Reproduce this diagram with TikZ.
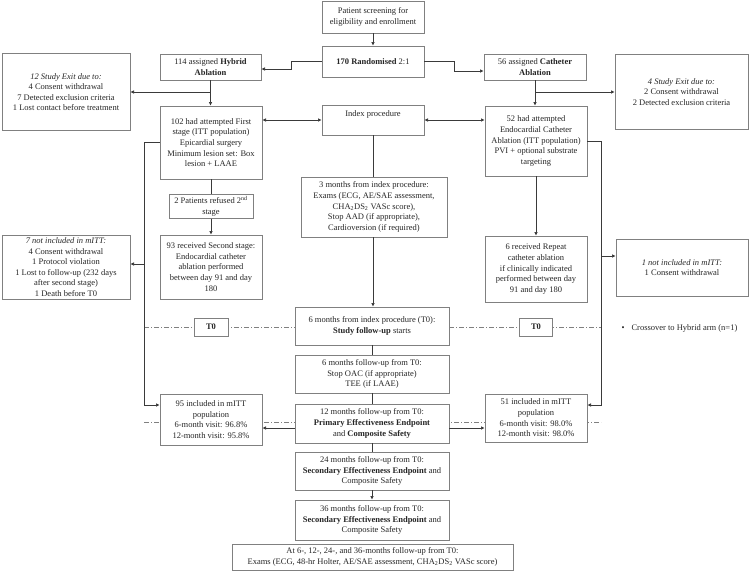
\documentclass[tikz,border=0pt]{standalone}
\usepackage{fontspec}
\setmainfont{Liberation Serif}
\usetikzlibrary{arrows.meta,positioning,calc,backgrounds}
\definecolor{frame}{HTML}{808080}
\definecolor{edge}{HTML}{3A3A3A}
\definecolor{ink}{HTML}{262626}

\begin{document}
\begin{tikzpicture}[x=1pt, y=-1pt,
  box/.style={rectangle, draw=frame, line width=0.8pt, fill=white, align=center, inner sep=2pt,
    font=\fontsize{8.5}{10.6}\selectfont, text=ink},
  arr/.style={-{Latex[length=3.6pt,width=3.6pt]}, line width=0.75pt, edge},
  darr/.style={{Latex[length=3.6pt,width=3.6pt]}-{Latex[length=3.6pt,width=3.6pt]}, line width=0.75pt, edge},
  line/.style={line width=0.75pt, edge},
  tline/.style={line width=0.6pt, frame, dash pattern=on 5pt off 2pt on 1pt off 2pt}
]
  \useasboundingbox (0,0) rectangle (750,571);

  % centre column
  \node[box, minimum width=102pt, minimum height=32pt] (screen) at (373,17) {Patient screening for\\eligibility and enrollment};
  \node[box, minimum width=102pt, minimum height=31pt] (rand) at (373,61.5) {\textbf{170 Randomised} 2:1};
  \node[box, minimum width=102pt, minimum height=30pt, text height=7pt, text depth=15pt] (index) at (373,120) {Index procedure};
  \node[box, minimum width=146pt, minimum height=60pt] (three) at (374,207) {3 months from index procedure:\\Exams (ECG, AE/SAE assessment,\\CHA\textsubscript{2}DS\textsubscript{2} VASc score),\\Stop AAD (if appropriate),\\Cardioversion (if required)};
  \node[box, minimum width=154pt, minimum height=38pt] (fu0) at (372,326) {6 months from index procedure (T0):\\\textbf{Study follow-up} starts};
  \node[box, minimum width=154pt, minimum height=38pt] (fu6) at (372,374) {6 months follow-up from T0:\\Stop OAC (if appropriate)\\TEE (if LAAE)};
  \node[box, minimum width=154pt, minimum height=39pt] (fu12) at (372,423.5) {12 months follow-up from T0:\\\textbf{Primary Effectiveness Endpoint}\\and \textbf{Composite Safety}};
  \node[box, minimum width=154pt, minimum height=38pt] (fu24) at (372,471) {24 months follow-up from T0:\\\textbf{Secondary Effectiveness Endpoint} and\\Composite Safety};
  \node[box, minimum width=154pt, minimum height=40pt] (fu36) at (372,520) {36 months follow-up from T0:\\\textbf{Secondary Effectiveness Endpoint} and\\Composite Safety};
  \node[box, minimum width=281pt, minimum height=26pt] (fin) at (372.5,557) {At 6-, 12-, 24-, and 36-months follow-up from T0:\\Exams (ECG, 48-hr Holter, AE/SAE assessment, CHA\textsubscript{2}DS\textsubscript{2} VASc score)};

  % hybrid arm
  \node[box, minimum width=101pt, minimum height=26pt] (hyb) at (210.5,67) {114 assigned \textbf{Hybrid}\\\textbf{Ablation}};
  \node[box, minimum width=128pt, minimum height=77pt] (exitL) at (66,92) {\textit{12 Study Exit due to:}\\4 Consent withdrawal\\7 Detected exclusion criteria\\1 Lost contact before treatment};
  \node[box, minimum width=102pt, minimum height=73pt] (first) at (211,142.5) {102 had attempted First\\stage (ITT population)\\Epicardial surgery\\Minimum lesion set: Box\\lesion + LAAE};
  \node[box, minimum width=84pt, minimum height=23pt] (refused) at (211,206.5) {2 Patients refused 2\textsuperscript{nd}\\stage};
  \node[box, minimum width=102pt, minimum height=64pt] (recv) at (211,267) {93 received Second stage:\\Endocardial catheter\\ablation performed\\between day 91 and day\\180};
  \node[box, minimum width=128pt, minimum height=64pt] (notL) at (66,267) {\textit{7 not included in mITT:}\\4 Consent withdrawal\\1 Protocol violation\\1 Lost to follow-up (232 days\\after second stage)\\1 Death before T0};
  \node[box, minimum width=34pt, minimum height=18pt] (t0L) at (211,327) {\textbf{T0}};
  \node[box, minimum width=102pt, minimum height=51pt] (incH) at (211,419.5) {95 included in mITT\\population\\6-month visit: 96.8\%\\12-month visit: 95.8\%};

  % catheter arm
  \node[box, minimum width=102pt, minimum height=26pt] (cath) at (535,67) {56 assigned \textbf{Catheter}\\\textbf{Ablation}};
  \node[box, minimum width=133pt, minimum height=75pt] (exitR) at (681.5,92) {\textit{4 Study Exit due to:}\\2 Consent withdrawal\\2 Detected exclusion criteria};
  \node[box, minimum width=102pt, minimum height=70pt] (endo) at (536,141) {52 had attempted\\Endocardial Catheter\\Ablation (ITT population)\\PVI + optional substrate\\targeting};
  \node[box, minimum width=102pt, minimum height=66pt] (rep) at (536,269) {6 received Repeat\\catheter ablation\\if clinically indicated\\performed between day\\91 and day 180};
  \node[box, minimum width=132pt, minimum height=57pt] (notR) at (682,267.5) {\textit{1 not included in mITT:}\\1 Consent withdrawal};
  \node[box, minimum width=33pt, minimum height=18pt] (t0R) at (536,327) {\textbf{T0}};
  \node[box, minimum width=102pt, minimum height=48pt] (incC) at (536,418) {51 included in mITT\\population\\6-month visit: 98.0\%\\12-month visit: 98.0\%};

  \node[anchor=west, font=\fontsize{8.5}{10.6}\selectfont, text=ink] (cross) at (618,328) {\textbullet\hspace{7pt}Crossover to Hybrid arm (n=1)};

  \coordinate (lL) at (144,0);
  \coordinate (rR) at (601,0);

  % time lines
  \begin{scope}[on background layer]
    \draw[tline] (lL |- t0L) -- (t0L -| fu0.west);
    \draw[tline] (t0R -| fu0.east) -- (rR |- t0R);
    \draw[tline] (144,422) -- (601,422);
  \end{scope}

  % connectors
  \draw[arr] (screen) -- (rand);
  \draw[arr] (rand.west) -- ++(-30,0) |- ([yshift=-2pt]hyb.east);
  \draw[arr] (rand.east) -- ++(30,0) |- ([yshift=-4pt]cath.west);
  \draw[arr] (hyb.south) -- (hyb.south |- first.north);
  \draw[arr] (exitL.east -| hyb.south) -- (exitL.east);
  \draw[arr] (cath.south) -- (cath.south |- endo.north);
  \draw[arr] (exitR.west -| cath.south) -- (exitR.west);
  \draw[darr] (index.west -| first.east) -- (index.west);
  \draw[darr] (index.east) -- (index.east -| endo.west);
  \draw[line] (first.south) -- (first.south |- refused.north);
  \draw[arr] (refused.south) -- (refused.south |- recv.north);
  \draw[line] (index.south) -- (index.south |- three.north);
  \draw[arr] (index.south |- three.south) -- (index.south |- fu0.north);
  \draw[arr] (endo.south) -- (rep.north);
  \draw[arr] (first.west) -- (first.west -| lL) |- ([yshift=14.5pt]incH.west);
  \draw[arr] ([yshift=3pt]notL.east -| lL) -- ([yshift=3pt]notL.east);
  \draw[arr] (endo.east) -- (endo.east -| rR) |- ([yshift=13pt]incC.east);
  \draw[arr] ([yshift=11.5pt]notR.west -| rR) -- ([yshift=11.5pt]notR.west);
  \draw[line] (fu0) -- (fu6);
  \draw[line] (fu6) -- (fu12);
  \draw[line] (fu12) -- (fu24);
  \draw[arr] (fu24) -- (fu36);
  \draw[arr] ([yshift=-4.5pt]fu12.west) -- ([yshift=-4.5pt]fu12.west -| incH.east);
  \draw[arr] ([yshift=-4.5pt]fu12.east) -- ([yshift=-4.5pt]fu12.east -| incC.west);
\end{tikzpicture}
\end{document}
